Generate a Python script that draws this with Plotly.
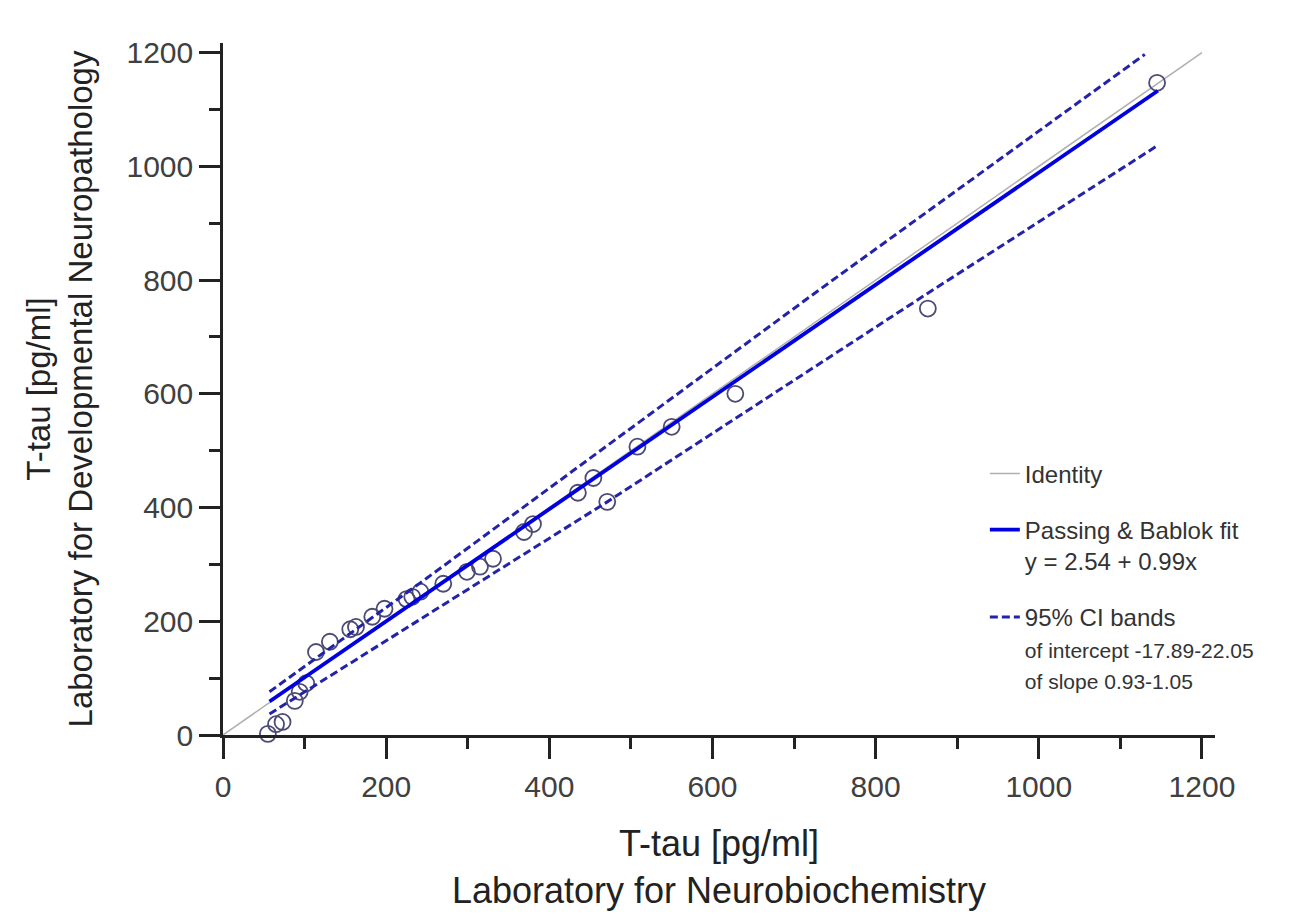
import plotly.graph_objects as go

# ---- data ----
x_neurobiochem = [55, 65, 73, 88, 94, 102, 114, 131, 156, 163, 183, 198, 225, 232, 242,
                  270, 299, 315, 331, 369, 380, 435, 454, 471, 508, 550, 628, 864, 1145]
y_devneuro = [2, 19, 23, 60, 76, 91, 146, 164, 186, 190, 208, 222, 239, 243, 252,
              266, 287, 296, 310, 357, 371, 426, 452, 410, 507, 542, 600, 750, 1147]

identity_x = [0, 1200]
identity_y = [0, 1200]

fit_x = [57, 1146]
fit_y = [59, 1133]

ci_upper_x = [57, 250, 732, 1130]
ci_upper_y = [76, 276, 784, 1197]
ci_lower_x = [57, 471, 864, 1147]
ci_lower_y = [37, 410, 777, 1038]

x_ticks = [0, 200, 400, 600, 800, 1000, 1200]
y_ticks = [0, 200, 400, 600, 800, 1000, 1200]

FONT = "Arial, Liberation Sans, sans-serif"

fig = go.Figure()

fig.add_trace(go.Scatter(
    x=identity_x, y=identity_y, mode="lines", name="Identity",
    line=dict(color="rgb(175,175,175)", width=1.5), legendgroup="a"))

fig.add_trace(go.Scatter(
    x=x_neurobiochem, y=y_devneuro, mode="markers", showlegend=False,
    cliponaxis=False,
    marker=dict(symbol="circle-open", size=16, color="rgb(75,75,115)",
                line=dict(width=1.8, color="rgb(75,75,115)"))))

fig.add_trace(go.Scatter(
    x=fit_x, y=fit_y, mode="lines",
    name="Passing & Bablok fit<br>y = 2.54 + 0.99x",
    line=dict(color="rgb(0,0,225)", width=3.8), legendgroup="b"))

fig.add_trace(go.Scatter(
    x=ci_upper_x, y=ci_upper_y, mode="lines",
    name=("95% CI bands<br><span style='font-size:21px'>of intercept -17.89-22.05</span>"
          "<br><span style='font-size:21px'>of slope 0.93-1.05</span>"),
    line=dict(color="rgb(35,35,170)", width=3, dash="8px,4px"), legendgroup="c"))

fig.add_trace(go.Scatter(
    x=ci_lower_x, y=ci_lower_y, mode="lines", showlegend=False,
    line=dict(color="rgb(35,35,170)", width=3, dash="8px,4px"), legendgroup="c"))

axis_common = dict(
    showgrid=False, zeroline=False, showline=True, linecolor="#222", linewidth=2.5,
    ticks="outside", ticklen=21, tickwidth=2.5, tickcolor="#222",
    tickfont=dict(family=FONT, size=30, color="#404040"),
    minor=dict(ticks="outside", dtick=100, ticklen=11, tickwidth=2.5, tickcolor="#222"),
)

fig.update_layout(
    width=1308, height=906,
    margin=dict(l=215, r=101, t=35, b=179, autoexpand=False),
    paper_bgcolor="white", plot_bgcolor="white",
    font=dict(family=FONT, color="#222"),
    xaxis=dict(axis_common, range=[0, 1216], tickvals=x_ticks, ticklabelstandoff=2,
               title=dict(text="T-tau [pg/ml]<br>Laboratory for Neurobiochemistry",
                          font=dict(family=FONT, size=36, color="#222"), standoff=30)),
    yaxis=dict(axis_common, range=[0, 1217], tickvals=y_ticks,
               title=dict(text="T-tau [pg/ml]<br>Laboratory for Developmental Neuropathology",
                          font=dict(family=FONT, size=33, color="#222"), standoff=24)),
    legend=dict(x=0.768, y=0.41, xanchor="left", yanchor="top", valign="top",
                font=dict(family=FONT, size=24, color="#333"), tracegroupgap=22,
                bgcolor="rgba(0,0,0,0)"),
)

fig.write_html("out.html")
